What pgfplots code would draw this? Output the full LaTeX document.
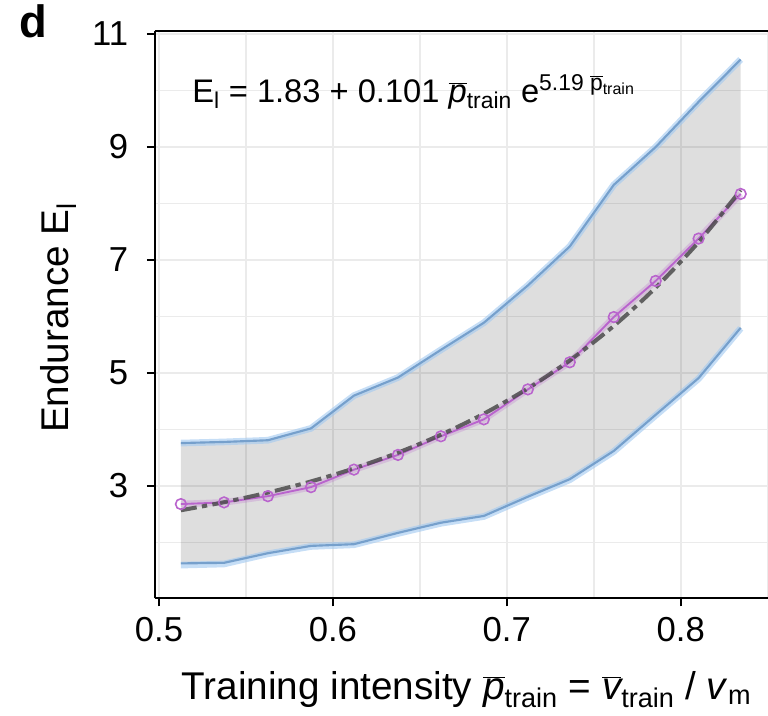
\documentclass[border=0pt]{standalone}
\usepackage{fontspec}
\setmainfont{Liberation Sans}
\usepackage{pgfplots}
\pgfplotsset{compat=1.18}
\definecolor{edgeblue}{RGB}{118,160,204}
\definecolor{ribbonblue}{RGB}{160,200,240}
\definecolor{fitpurple}{RGB}{185,100,205}
\definecolor{gridgray}{RGB}{235,235,235}

\begin{document}
\begin{tikzpicture}
\begin{axis}[name=ax, at={(0,0)}, anchor=south west,
  scale only axis, width=459.75pt, height=425.7pt,
  xmin=0.4977, xmax=0.8502, ymin=1.013, ymax=11.06,
  axis x line=box, axis y line=left,
  axis line style={-, line width=1.4pt, black},
  xtick={0.5,0.6,0.7,0.8}, ytick={3,5,7,9,11},
  minor xtick={0.55,0.65,0.75,0.85}, minor ytick={2,4,6,8,10},
  xtick pos=left, ytick pos=left,
  tick align=outside, major tick length=6pt, minor tick length=0pt,
  major tick style={line width=1.8pt, black},
  grid=both,
  major grid style={gridgray, line width=1.8pt},
  minor grid style={gridgray, line width=1.2pt},
  /pgf/number format/assume math mode=true,
  /pgf/number format/fixed, /pgf/number format/precision=1,
  tick label style={font=\fontsize{26}{28}\selectfont},
  xticklabel style={inner sep=0pt, yshift=-8pt},
  yticklabel style={inner sep=0pt},
  yticklabel shift=14pt,
  xlabel={Training intensity \(\overline{\textit{p}}\)\textsubscript{train} = \(\overline{\textit{v}}\)\textsubscript{train} / \textit{v}\textsubscript{m}},
  ylabel={Endurance E\textsubscript{l}},
  label style={font=\fontsize{29}{32}\selectfont},
  xlabel style={at={(axis description cs:0.508,0)}, anchor=base, yshift=-76pt},
  ylabel style={at={(axis description cs:0,0.494)}, anchor=base, yshift=65pt},
  clip=true,
]
% confidence band
\addplot[draw=none, fill=black, fill opacity=0.13] coordinates {
  (0.5126,3.76) (0.5374,3.78) (0.5626,3.81) (0.5874,4.02) (0.6121,4.60)
  (0.6374,4.92) (0.6621,5.41) (0.6868,5.89) (0.7121,6.55) (0.7362,7.24)
  (0.7615,8.33) (0.7856,9.00) (0.8103,9.80) (0.8345,10.55)
  (0.8345,5.80) (0.8103,4.91) (0.7856,4.26) (0.7615,3.62) (0.7362,3.12)
  (0.7121,2.81) (0.6868,2.47) (0.6621,2.35) (0.6374,2.17) (0.6121,1.97)
  (0.5874,1.94) (0.5626,1.81) (0.5374,1.64) (0.5126,1.63)} -- cycle;
% band edges
\addplot[ribbonblue, opacity=0.6, line width=5pt] coordinates {
  (0.5126,3.76) (0.5374,3.78) (0.5626,3.81) (0.5874,4.02) (0.6121,4.60)
  (0.6374,4.92) (0.6621,5.41) (0.6868,5.89) (0.7121,6.55) (0.7362,7.24)
  (0.7615,8.33) (0.7856,9.00) (0.8103,9.80) (0.8345,10.55)};
\addplot[edgeblue, line width=1.6pt] coordinates {
  (0.5126,3.76) (0.5374,3.78) (0.5626,3.81) (0.5874,4.02) (0.6121,4.60)
  (0.6374,4.92) (0.6621,5.41) (0.6868,5.89) (0.7121,6.55) (0.7362,7.24)
  (0.7615,8.33) (0.7856,9.00) (0.8103,9.80) (0.8345,10.55)};
\addplot[ribbonblue, opacity=0.6, line width=5pt] coordinates {
  (0.5126,1.60) (0.5374,1.62) (0.5626,1.80) (0.5874,1.93) (0.6121,1.96)
  (0.6374,2.16) (0.6621,2.34) (0.6868,2.46) (0.7121,2.80) (0.7362,3.11)
  (0.7615,3.61) (0.7856,4.25) (0.8103,4.90) (0.8345,5.79)};
\addplot[edgeblue, line width=1.6pt] coordinates {
  (0.5126,1.63) (0.5374,1.64) (0.5626,1.81) (0.5874,1.94) (0.6121,1.97)
  (0.6374,2.17) (0.6621,2.35) (0.6868,2.47) (0.7121,2.81) (0.7362,3.12)
  (0.7615,3.62) (0.7856,4.26) (0.8103,4.91) (0.8345,5.80)};
% measured means
\addplot[fitpurple, opacity=0.25, line width=5pt] coordinates {
  (0.5126,2.68) (0.5374,2.71) (0.5626,2.82) (0.5874,2.98) (0.6121,3.29)
  (0.6374,3.55) (0.6621,3.88) (0.6868,4.18) (0.7121,4.71) (0.7362,5.19)
  (0.7615,5.99) (0.7856,6.63) (0.8103,7.38) (0.8345,8.17)};
\addplot[fitpurple, line width=1.4pt] coordinates {
  (0.5126,2.68) (0.5374,2.71) (0.5626,2.82) (0.5874,2.98) (0.6121,3.29)
  (0.6374,3.55) (0.6621,3.88) (0.6868,4.18) (0.7121,4.71) (0.7362,5.19)
  (0.7615,5.99) (0.7856,6.63) (0.8103,7.38) (0.8345,8.17)};
% exponential fit
\addplot[black!70, opacity=0.85, line width=3pt, smooth,
  dash pattern=on 12pt off 4pt on 4pt off 4pt] coordinates {
  (0.5126,2.570) (0.5374,2.713) (0.5626,2.884) (0.5874,3.081) (0.6121,3.312)
  (0.6374,3.590) (0.6621,3.908) (0.6868,4.280) (0.7121,4.727) (0.7362,5.224)
  (0.7615,5.833) (0.7856,6.511) (0.8103,7.317) (0.8345,8.238)};
\addplot[only marks, mark=o, mark size=4pt, fitpurple, line width=1.2pt] coordinates {
  (0.5126,2.68) (0.5374,2.71) (0.5626,2.82) (0.5874,2.98) (0.6121,3.29)
  (0.6374,3.55) (0.6621,3.88) (0.6868,4.18) (0.7121,4.71) (0.7362,5.19)
  (0.7615,5.99) (0.7856,6.63) (0.8103,7.38) (0.8345,8.17)};
\end{axis}
\node[anchor=base west, inner sep=0pt, font=\fontsize{24.5}{26}\selectfont]
  at (27.75pt,371.5pt) {E\textsubscript{l} = 1.83 + 0.101 \(\overline{\textit{p}}\)\textsubscript{train} e\textsuperscript{5.19 \(\overline{\textrm{p}}\)\textsubscript{train}}};
\node[anchor=base west, inner sep=0pt, font=\fontsize{34}{36}\selectfont\bfseries]
  at (-102pt,420.2pt) {d};
\pgfresetboundingbox
\path[use as bounding box] (-116.25pt,-88.28pt) rectangle (459.75pt,448.7pt);
\end{tikzpicture}
\end{document}
